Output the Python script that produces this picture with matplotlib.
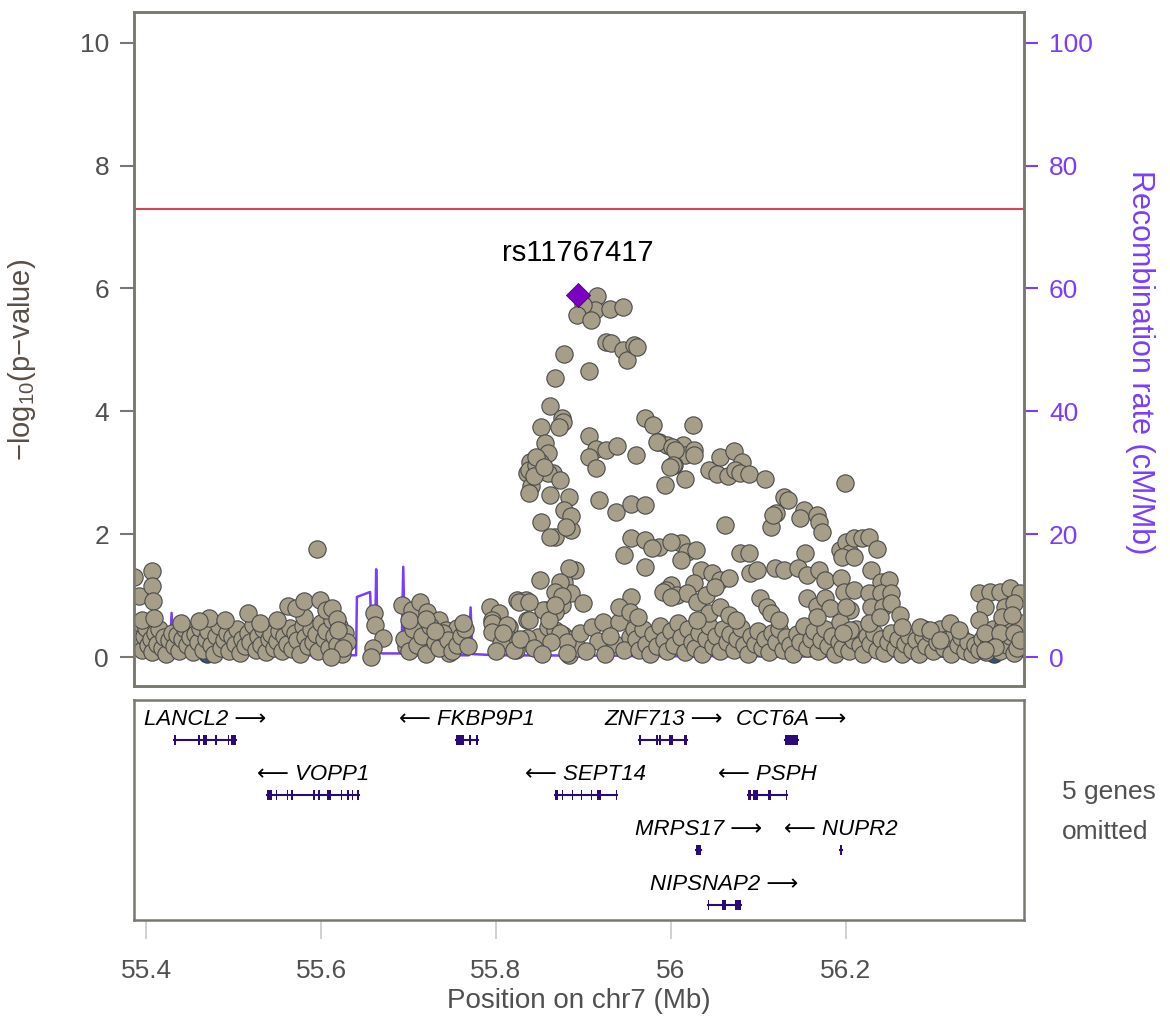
import matplotlib
matplotlib.use("Agg")
import matplotlib.pyplot as plt
import numpy as np
from matplotlib.patches import Rectangle

plt.rcParams['font.family'] = ['Liberation Sans', 'DejaVu Sans']
plt.rcParams['mathtext.fontset'] = 'custom'
plt.rcParams['mathtext.rm'] = 'Liberation Sans'

# SNPs in the low band (position Mb, -log10 p)
band_left = [
    (55.388, 0.42), (55.390, 0.25), (55.393, 0.55), (55.395, 0.12), (55.398, 0.35), (55.400, 0.48),
    (55.402, 0.20), (55.405, 0.30), (55.407, 0.08), (55.410, 0.40), (55.412, 0.22), (55.415, 0.45),
    (55.418, 0.15), (55.420, 0.33), (55.423, 0.05), (55.426, 0.28), (55.429, 0.40), (55.432, 0.18),
    (55.435, 0.36), (55.438, 0.10), (55.441, 0.30), (55.444, 0.45), (55.447, 0.20), (55.450, 0.32),
    (55.453, 0.08), (55.456, 0.38), (55.459, 0.25), (55.462, 0.47), (55.465, 0.12), (55.468, 0.30),
    (55.471, 0.42), (55.474, 0.20), (55.477, 0.05), (55.480, 0.35), (55.483, 0.50), (55.486, 0.15),
    (55.489, 0.28), (55.492, 0.40), (55.495, 0.10), (55.498, 0.33), (55.501, 0.22), (55.504, 0.45),
    (55.507, 0.06), (55.510, 0.30), (55.513, 0.18), (55.516, 0.40), (55.519, 0.25), (55.522, 0.52),
    (55.525, 0.12), (55.528, 0.35), (55.531, 0.20), (55.534, 0.46), (55.537, 0.08), (55.540, 0.30),
    (55.543, 0.38), (55.546, 0.15), (55.549, 0.27), (55.552, 0.42), (55.555, 0.10), (55.558, 0.35),
    (55.561, 0.22), (55.564, 0.48), (55.567, 0.13), (55.570, 0.40), (55.573, 0.28), (55.576, 0.05),
    (55.579, 0.50), (55.582, 0.32), (55.585, 0.18), (55.588, 0.45), (55.591, 0.25), (55.594, 0.38),
    (55.597, 0.10), (55.600, 0.55), (55.603, 0.30), (55.606, 0.42), (55.609, 0.15), (55.612, 0.60),
    (55.615, 0.35), (55.618, 0.20), (55.621, 0.50), (55.624, 0.05), (55.627, 0.40), (55.630, 0.25),
]
upper_left = [
    (55.386, 1.30), (55.392, 1.00), (55.407, 1.40), (55.407, 1.16), (55.408, 0.91), (55.395, 0.60),
    (55.409, 0.63), (55.472, 0.63), (55.516, 0.72), (55.440, 0.55), (55.460, 0.58), (55.490, 0.60),
    (55.530, 0.55), (55.550, 0.60), (55.580, 0.65), (55.595, 1.76), (55.562, 0.83), (55.571, 0.80),
    (55.581, 0.91), (55.599, 0.93), (55.606, 0.77), (55.612, 0.80), (55.618, 0.62), (55.619, 0.44),
    (55.625, 0.15), (55.611, 0.00),
]
mid_left = [
    (55.661, 0.72), (55.662, 0.52), (55.671, 0.31), (55.659, 0.15), (55.657, 0.00), (55.692, 0.85),
    (55.704, 0.77), (55.713, 0.90), (55.721, 0.73), (55.735, 0.60), (55.743, 0.44), (55.752, 0.33),
    (55.755, 0.47), (55.746, 0.06), (55.697, 0.17), (55.695, 0.30), (55.700, 0.10), (55.705, 0.45),
    (55.710, 0.20), (55.715, 0.35), (55.720, 0.05), (55.725, 0.50), (55.730, 0.25), (55.735, 0.15),
    (55.740, 0.40), (55.745, 0.28), (55.750, 0.10), (55.755, 0.20), (55.760, 0.35), (55.765, 0.45),
    (55.768, 0.18), (55.700, 0.60), (55.720, 0.62), (55.730, 0.42), (55.762, 0.55),
]
peak_low = [
    (55.793, 0.81), (55.804, 0.72), (55.796, 0.60), (55.798, 0.44), (55.815, 0.49), (55.813, 0.33),
    (55.823, 0.11), (55.824, 0.93), (55.834, 0.93), (55.835, 0.60), (55.850, 1.25), (55.848, 0.33),
    (55.867, 1.95), (55.886, 2.07), (55.890, 1.42), (55.878, 1.22), (55.870, 1.06), (55.886, 1.04),
    (55.876, 0.85), (55.867, 0.73), (55.857, 0.77), (55.859, 0.49), (55.868, 0.44), (55.877, 0.36),
    (55.890, 0.31), (55.883, 0.03), (55.894, 0.15), (55.796, 0.55), (55.813, 0.52), (55.796, 0.41),
    (55.806, 0.23), (55.821, 0.11), (55.838, 0.60), (55.854, 0.77), (55.861, 0.60), (55.836, 0.31),
    (55.873, 0.39), (55.881, 0.24), (55.863, 0.24), (55.881, 0.06), (55.896, 0.39), (55.910, 0.49),
    (55.923, 0.57), (55.917, 0.26), (55.936, 0.22), (55.941, 0.57), (55.953, 0.32), (55.965, 0.20),
    (55.976, 0.26), (55.970, 0.40), (55.800, 0.10), (55.808, 0.40), (55.828, 0.30), (55.843, 0.15),
    (55.853, 0.05), (55.903, 0.10), (55.925, 0.05), (55.930, 0.35), (55.946, 0.12), (55.958, 0.45),
]
peak_high = [
    (55.916, 5.87), (55.913, 5.65), (55.900, 5.73), (55.893, 5.57), (55.909, 5.49), (55.930, 5.67),
    (55.945, 5.70), (55.926, 5.13), (55.932, 5.11), (55.945, 5.00), (55.950, 4.84), (55.958, 5.08),
    (55.961, 5.05), (55.878, 4.93), (55.868, 4.54), (55.907, 4.66), (55.862, 4.09), (55.876, 3.90),
    (55.877, 3.82), (55.852, 3.75), (55.872, 3.75), (55.856, 3.48), (55.859, 3.33), (55.839, 3.17),
    (55.850, 3.17), (55.836, 3.00), (55.865, 3.00), (55.907, 3.60), (55.915, 3.39), (55.926, 3.37),
    (55.938, 3.43), (55.907, 3.26), (55.915, 3.08), (55.960, 3.29), (55.971, 3.89), (55.980, 3.78),
    (55.984, 3.50), (56.001, 3.42), (56.005, 3.37), (56.003, 3.13), (55.838, 3.04), (55.840, 2.78),
    (55.838, 2.67), (55.846, 3.13), (55.860, 3.00), (55.873, 2.88), (55.862, 2.64), (55.884, 2.60),
    (55.878, 2.39), (55.886, 2.29), (55.851, 2.20), (55.880, 2.11), (55.862, 1.96), (55.918, 2.55),
    (55.937, 2.36), (55.954, 2.50), (55.970, 2.47), (55.993, 2.80), (55.999, 3.10), (55.955, 1.94),
    (55.971, 1.90), (55.978, 1.77), (55.947, 1.66), (55.971, 1.47), (56.000, 1.88), (55.991, 1.06),
    (56.000, 0.98), (55.884, 1.45), (55.873, 1.22), (55.867, 1.06), (55.876, 1.00), (55.867, 0.85),
    (55.826, 0.90), (55.838, 0.90), (55.900, 0.88), (55.955, 0.98), (55.941, 0.81), (55.953, 0.73),
    (55.963, 0.65), (55.846, 3.25), (55.843, 2.95), (55.855, 3.10),
]
right_high = [
    (56.025, 3.78), (55.987, 3.50), (55.996, 3.45), (56.014, 3.45), (56.016, 3.29), (56.027, 3.37),
    (56.026, 3.29), (56.004, 3.13), (56.016, 2.90), (56.044, 3.05), (56.056, 3.25), (56.053, 2.98),
    (56.065, 2.94), (56.072, 3.36), (56.082, 3.17), (56.074, 3.05), (56.079, 3.00), (56.090, 2.98),
    (56.108, 2.90), (56.129, 2.60), (56.134, 2.56), (56.120, 2.34), (56.152, 2.40), (56.148, 2.26),
    (56.167, 2.31), (56.170, 2.20), (56.199, 2.83), (56.062, 2.15), (56.115, 2.11), (56.117, 2.31),
    (56.173, 2.03), (55.987, 1.79), (56.012, 1.85), (56.019, 1.71), (56.029, 1.74), (56.012, 1.58),
    (56.079, 1.69), (56.090, 1.69), (56.153, 1.69), (56.091, 1.37), (56.099, 1.42), (56.119, 1.45),
    (56.130, 1.42), (56.145, 1.45), (56.156, 1.33), (56.170, 1.42), (56.176, 1.25), (56.195, 1.29),
    (56.193, 1.74), (56.200, 1.87), (56.205, 1.69), (56.035, 1.42), (56.047, 1.37), (56.056, 1.25),
    (56.067, 1.29), (56.027, 1.20), (56.000, 1.17), (55.994, 1.09), (56.007, 1.01), (56.019, 1.04),
    (56.030, 0.90), (56.040, 1.01), (56.050, 1.14), (56.102, 0.97), (56.110, 0.81), (56.156, 0.96),
    (56.167, 0.84), (56.176, 0.96), (56.182, 0.80), (56.198, 1.06), (56.205, 0.76), (56.044, 0.72),
    (56.056, 0.81), (56.067, 0.68), (56.075, 0.60), (56.030, 0.60), (56.115, 0.72), (56.124, 0.60),
    (56.167, 0.65), (56.193, 0.57), (56.205, 0.44), (56.210, 1.94), (56.219, 1.94), (56.227, 1.95),
    (56.236, 1.76), (56.196, 1.63), (56.210, 1.63), (56.229, 1.42), (56.210, 1.09), (56.241, 1.22),
    (56.250, 1.25), (56.227, 1.04), (56.241, 1.04), (56.252, 1.04), (56.200, 0.81), (56.229, 0.81),
    (56.243, 0.81), (56.252, 0.88), (56.262, 0.68), (56.264, 0.49), (56.227, 0.55), (56.239, 0.65),
    (56.197, 0.39), (56.285, 0.49), (56.296, 0.44), (56.319, 0.55), (56.330, 0.44), (56.308, 0.28),
    (56.353, 1.04), (56.365, 1.06), (56.376, 1.06), (56.388, 1.12), (56.399, 1.04), (56.359, 0.81),
    (56.382, 0.81), (56.393, 0.88), (56.353, 0.60), (56.379, 0.65), (56.390, 0.68), (56.359, 0.39),
    (56.376, 0.39), (56.393, 0.39), (56.399, 0.28), (56.371, 0.16), (56.359, 0.11),
]
band_right = [
    (55.960, 0.30), (55.964, 0.12), (55.968, 0.45), (55.972, 0.22), (55.976, 0.05), (55.980, 0.38),
    (55.984, 0.18), (55.988, 0.50), (55.992, 0.28), (55.996, 0.10), (56.000, 0.42), (56.004, 0.20),
    (56.008, 0.55), (56.012, 0.32), (56.016, 0.08), (56.020, 0.45), (56.024, 0.25), (56.028, 0.15),
    (56.032, 0.40), (56.036, 0.05), (56.040, 0.30), (56.044, 0.50), (56.048, 0.18), (56.052, 0.35),
    (56.056, 0.10), (56.060, 0.45), (56.064, 0.25), (56.068, 0.38), (56.072, 0.12), (56.076, 0.30),
    (56.080, 0.48), (56.084, 0.20), (56.088, 0.05), (56.092, 0.35), (56.096, 0.22), (56.100, 0.42),
    (56.104, 0.15), (56.108, 0.30), (56.112, 0.08), (56.116, 0.40), (56.120, 0.25), (56.124, 0.45),
    (56.128, 0.12), (56.132, 0.32), (56.136, 0.20), (56.140, 0.05), (56.144, 0.38), (56.148, 0.25),
    (56.152, 0.50), (56.156, 0.15), (56.160, 0.30), (56.164, 0.42), (56.168, 0.10), (56.172, 0.28),
    (56.176, 0.45), (56.180, 0.18), (56.184, 0.35), (56.188, 0.05), (56.192, 0.25), (56.196, 0.15),
    (56.200, 0.38), (56.204, 0.10), (56.208, 0.28), (56.212, 0.45), (56.216, 0.20), (56.220, 0.05),
    (56.224, 0.35), (56.228, 0.22), (56.232, 0.40), (56.236, 0.12), (56.240, 0.30), (56.244, 0.06),
    (56.248, 0.25), (56.252, 0.40), (56.256, 0.15), (56.260, 0.30), (56.264, 0.05), (56.268, 0.22),
    (56.272, 0.35), (56.276, 0.12), (56.280, 0.28), (56.284, 0.05), (56.288, 0.32), (56.292, 0.18),
    (56.296, 0.40), (56.300, 0.10), (56.304, 0.25), (56.308, 0.45), (56.312, 0.15), (56.316, 0.30),
    (56.320, 0.05), (56.324, 0.38), (56.328, 0.20), (56.332, 0.32), (56.336, 0.10), (56.340, 0.25),
    (56.344, 0.05), (56.348, 0.20), (56.352, 0.12), (56.356, 0.30), (56.360, 0.08), (56.364, 0.25),
    (56.368, 0.45), (56.372, 0.28), (56.376, 0.10), (56.380, 0.50), (56.384, 0.20), (56.388, 0.35),
    (56.392, 0.06), (56.396, 0.15), (56.400, 0.55),
]
# a few low-LD SNPs mostly hidden underneath
navy_snps = [
    (55.392, 0.45), (55.397, 0.38), (55.445, 0.30), (55.455, 0.15), (55.470, 0.05), (55.715, 0.60),
    (55.725, 0.35), (55.735, 0.22), (56.290, 0.45), (56.300, 0.35), (56.315, 0.20), (56.320, 0.08),
    (56.330, 0.40), (56.282, 0.10), (56.370, 0.05), (55.990, 0.25),
]
lead_snp = (55.894, 5.90)
lead_name = "rs11767417"
gw_threshold = 7.3

recomb_pos = [55.386, 55.420, 55.427, 55.429, 55.431, 55.440, 55.500, 55.550, 55.600, 55.640,
              55.641, 55.656, 55.658, 55.662, 55.663, 55.665, 55.670, 55.692, 55.694, 55.696,
              55.720, 55.769, 55.771, 55.773, 55.800, 55.900, 55.928, 55.930, 55.933, 55.960,
              56.050, 56.150, 56.250, 56.350, 56.404]
recomb_rate = [0.5, 0.5, 0.8, 7.2, 0.6, 0.4, 0.4, 0.3, 0.3, 0.3,
               9.8, 10.6, 4.0, 4.5, 14.3, 0.8, 0.6, 0.6, 14.7, 0.4,
               0.3, 0.3, 8.1, 0.5, 0.3, 0.25, 0.25, 0.6, 0.25, 0.15,
               0.15, 0.1, 0.1, 0.05, 0.05]

genes = ["LANCL2", "VOPP1", "FKBP9P1", "SEPT14", "ZNF713", "CCT6A", "PSPH", "MRPS17", "NUPR2", "NIPSNAP2"]
gene_row = [0, 1, 0, 1, 0, 0, 1, 2, 2, 3]
gene_strand = ["+", "-", "-", "-", "+", "+", "-", "+", "-", "+"]
gene_exons = [
    [(55.432, 55.4335), (55.459, 55.461), (55.465, 55.470), (55.479, 55.4805), (55.493, 55.495), (55.497, 55.503)],
    [(55.538, 55.544), (55.548, 55.5495), (55.5605, 55.562), (55.566, 55.5675), (55.591, 55.5925),
     (55.597, 55.5985), (55.607, 55.611), (55.6225, 55.624), (55.630, 55.6315), (55.6355, 55.637), (55.6415, 55.643)],
    [(55.754, 55.763), (55.7695, 55.771), (55.777, 55.779)],
    [(55.867, 55.871), (55.875, 55.8765), (55.8865, 55.888), (55.8975, 55.899), (55.9085, 55.910),
     (55.916, 55.920), (55.9375, 55.939)],
    [(55.964, 55.9655), (55.9835, 55.985), (55.987, 55.9885), (55.998, 56.002), (56.015, 56.019)],
    [(56.131, 56.145)],
    [(56.088, 56.092), (56.094, 56.100), (56.111, 56.115), (56.1315, 56.133)],
    [(56.029, 56.034)],
    [(56.194, 56.196)],
    [(56.042, 56.0435), (56.0585, 56.063), (56.073, 56.080)],
]

xlim = (55.386, 56.404)
ylim = (-0.47, 10.5)
grey_txt = '#505050'
spine_col = '#7a786e'
purple = '#7a3dff'

fig = plt.figure(figsize=(11.7, 10.28), dpi=100)
ax = fig.add_axes([134 / 1170, 1 - 686 / 1028, 890 / 1170, 674 / 1028])
ax2 = ax.twinx()
gax = fig.add_axes([134 / 1170, 1 - 920 / 1028, 890 / 1170, 220 / 1028])

# recombination rate on right axis, behind the points
ax2.plot(recomb_pos, recomb_rate, color=purple, lw=1.8)
ax2.set_ylim(ylim[0] * 10, ylim[1] * 10)
ax2.set_yticks([0, 20, 40, 60, 80, 100])
ax.set_zorder(ax2.get_zorder() + 1)
ax.patch.set_visible(False)

navy = np.array(navy_snps)
ax.scatter(navy[:, 0], navy[:, 1], s=155, c='#34507f', edgecolors='#3a3a3a', linewidths=0.8)
grey = np.array(band_left + upper_left + mid_left + peak_low + band_right + right_high + peak_high)
ax.scatter(grey[:, 0], grey[:, 1], s=155, c='#a69e89', edgecolors='#4a4a4a', linewidths=0.8)
ax.scatter([lead_snp[0]], [lead_snp[1]], s=150, marker='D', c='#7a00c2', edgecolors='#4b0080', linewidths=0.6, zorder=5)
ax.text(lead_snp[0], lead_snp[1] + 0.45, lead_name, ha='center', va='bottom', fontsize=21, color='black')
ax.axhline(gw_threshold, color='#d64455', lw=1.5)

ax.set_xlim(xlim)
ax.set_ylim(ylim)
ax.set_yticks([0, 2, 4, 6, 8, 10])
ax.set_xticks([])
for a in (ax, ax2):
    for s in a.spines.values():
        s.set_color(spine_col)
        s.set_linewidth(1.8)
ax.tick_params(axis='y', length=10, width=1.5, color=spine_col, labelsize=19, labelcolor=grey_txt, pad=8)
ax2.tick_params(axis='y', length=10, width=1.5, color=purple, labelsize=19, labelcolor=purple, pad=8)

fig.text(22 / 1170, 1 - 360 / 1028, '\u2212log$_{10}$(p\u2212value)', rotation=90,
         ha='center', va='center', fontsize=21, color='#5a4f46')
fig.text(1140 / 1170, 1 - 362 / 1028, 'Recombination rate (cM/Mb)', rotation=270,
         ha='center', va='center', fontsize=22, color=purple)

# gene track
gene_col = '#2a0a78'
for name, row, strand, exons in zip(genes, gene_row, gene_strand, gene_exons):
    start = min(e[0] for e in exons)
    end = max(e[1] for e in exons)
    yb = row + 0.73
    gax.plot([start, end], [yb, yb], color=gene_col, lw=1.5)
    for e0, e1 in exons:
        w = max(e1 - e0, 0.0015)
        gax.add_patch(Rectangle((e0, yb - 0.09), w, 0.18, color=gene_col, lw=0))
    label = name + ' \u27f6' if strand == '+' else '\u27f5 ' + name
    gax.text((start + end) / 2, row + 0.36, label, ha='center', va='center',
             fontsize=16, style='italic', color='black')

gax.set_xlim(xlim)
gax.set_ylim(4, 0)
gax.set_yticks([])
gax.set_xticks([55.4, 55.6, 55.8, 56.0, 56.2])
gax.set_xticklabels(['55.4', '55.6', '55.8', '56', '56.2'])
for s in gax.spines.values():
    s.set_color(spine_col)
    s.set_linewidth(1.8)
gax.tick_params(axis='x', length=14, width=1.2, color='#c8c8c8', labelsize=19, labelcolor=grey_txt, pad=14)
gax.set_xlabel('Position on chr7 (Mb)', fontsize=20, color=grey_txt, labelpad=4)

fig.text(1062 / 1170, 1 - 792 / 1028, '5 genes', ha='left', va='center', fontsize=19, color=grey_txt)
fig.text(1062 / 1170, 1 - 832 / 1028, 'omitted', ha='left', va='center', fontsize=19, color=grey_txt)

fig.savefig('out.png', dpi=100)
